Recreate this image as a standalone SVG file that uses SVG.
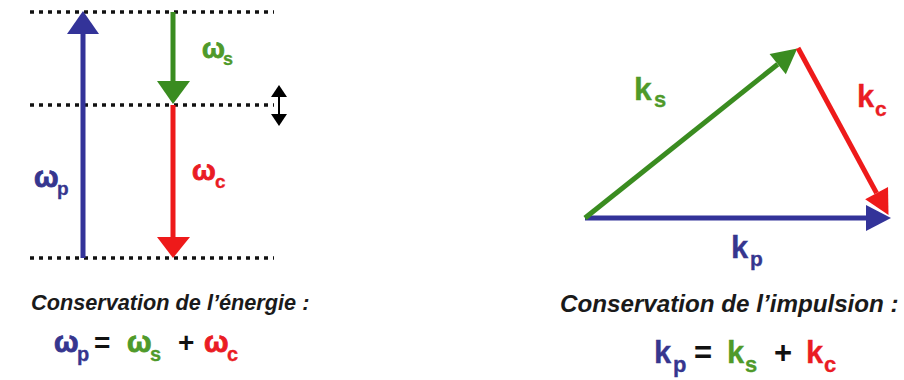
<svg xmlns="http://www.w3.org/2000/svg" width="904" height="380" viewBox="0 0 904 380">
<style>
.lvl{stroke:#111;stroke-width:3.5;stroke-dasharray:4 5;fill:none}
.b{stroke:#333399;stroke-width:5;fill:none}
.g{stroke:#3a8c20;stroke-width:5;fill:none}
.r{stroke:#ee1a1a;stroke-width:5;fill:none}
text{font-family:"Liberation Sans",Arial,sans-serif;font-weight:bold}
.cap{font-style:italic;fill:#1a1a1a}
.w{stroke-width:0.9}
.tb{fill:#36368f;stroke:#36368f}.tg{fill:#4f9a2a;stroke:#4f9a2a}.tr{fill:#ea1c24;stroke:#ea1c24}.tk{fill:#111}
.s{stroke-width:0.3}
</style>
<defs>
<marker id="hb" markerUnits="userSpaceOnUse" markerWidth="30" markerHeight="30" refX="0" refY="13" orient="auto" viewBox="0 0 30 26" overflow="visible"><path d="M0,0 L25,13 L0,26 z" fill="#333399"/></marker>
<marker id="hg" markerUnits="userSpaceOnUse" markerWidth="30" markerHeight="30" refX="0" refY="13" orient="auto" viewBox="0 0 30 26" overflow="visible"><path d="M0,0 L25,13 L0,26 z" fill="#3a8c20"/></marker>
<marker id="hr" markerUnits="userSpaceOnUse" markerWidth="30" markerHeight="30" refX="0" refY="13" orient="auto" viewBox="0 0 30 26" overflow="visible"><path d="M0,0 L25,13 L0,26 z" fill="#ee1a1a"/></marker>
</defs>
<g id="levels">
<line class="lvl" x1="30" y1="12" x2="274" y2="12"/>
<line class="lvl" x1="30" y1="105" x2="274" y2="105"/>
<line class="lvl" x1="30" y1="258" x2="274" y2="258"/>
</g>
<g id="connectors">
<g id="omega-p-arrow"><line class="b" x1="83" y1="258" x2="83" y2="32"/><polygon points="83,11 67,34 99,34" fill="#333399"/></g>
<g id="omega-s-arrow"><line class="g" x1="173" y1="12" x2="173" y2="84"/><polygon points="173,104 157,81 190,81" fill="#3a8c20"/></g>
<g id="omega-c-arrow"><line class="r" x1="173" y1="105" x2="173" y2="239"/><polygon points="173,258 157,237 190,237" fill="#ee1a1a"/></g>
<g id="detuning"><line x1="279" y1="94" x2="279" y2="116" stroke="#000" stroke-width="2"/><polygon points="279,85 271,97 287,97" fill="#000"/><polygon points="279,126 271,114 287,114" fill="#000"/></g>
<g id="kp-arrow"><line class="b" x1="585" y1="218" x2="866" y2="218" marker-end="url(#hb)"/></g>
<g id="ks-arrow"><line class="g" x1="585" y1="218" x2="777.7" y2="64.2" marker-end="url(#hg)"/></g>
<g id="kc-arrow"><line class="r" x1="798" y1="48" x2="876.6" y2="193.1" marker-end="url(#hr)"/></g>
</g>
<g id="labels">
<g id="lbl-omega-s"><text x="202" y="58" font-size="27" class="tg w">ω</text><text x="223" y="65" font-size="18" class="tg s">s</text></g>
<g id="lbl-omega-p"><text x="34" y="187" font-size="29" class="tb w">ω</text><text x="57" y="195" font-size="19" class="tb s">p</text></g>
<g id="lbl-omega-c"><text x="192" y="180" font-size="28" class="tr w">ω</text><text x="215" y="188" font-size="19" class="tr s">c</text></g>
<g id="lbl-ks"><text x="634" y="100" font-size="32" class="tg s">k</text><text x="654" y="107" font-size="22" class="tg s">s</text></g>
<g id="lbl-kc"><text x="857" y="107" font-size="31" class="tr s">k</text><text x="875" y="116" font-size="21" class="tr s">c</text></g>
<g id="lbl-kp"><text x="731" y="258" font-size="31" class="tb s">k</text><text x="750" y="266" font-size="21" class="tb s">p</text></g>
</g>
<g id="energy-caption">
<text x="31" y="310" font-size="21.7" class="cap">Conservation de l’énergie :</text>
<text x="54" y="352" font-size="29" class="tb w">ω</text><text x="77" y="361" font-size="20" class="tb s">p</text>
<text x="94" y="352" font-size="28" class="tk">=</text>
<text x="127" y="352" font-size="29" class="tg w">ω</text><text x="150" y="361" font-size="20" class="tg s">s</text>
<text x="178" y="352" font-size="28" class="tk">+</text>
<text x="204" y="352" font-size="29" class="tr w">ω</text><text x="227" y="361" font-size="20" class="tr s">c</text>
</g>
<g id="momentum-caption">
<text x="560" y="312" font-size="24.2" class="cap">Conservation de l’impulsion :</text>
<text x="654" y="363" font-size="31" class="tb s">k</text><text x="673" y="372" font-size="22" class="tb s">p</text>
<text x="694" y="363" font-size="31" class="tk">=</text>
<text x="727" y="363" font-size="31" class="tg s">k</text><text x="745" y="372" font-size="22" class="tg s">s</text>
<text x="774" y="363" font-size="31" class="tk">+</text>
<text x="806" y="363" font-size="31" class="tr s">k</text><text x="824" y="372" font-size="22" class="tr s">c</text>
</g>
</svg>
